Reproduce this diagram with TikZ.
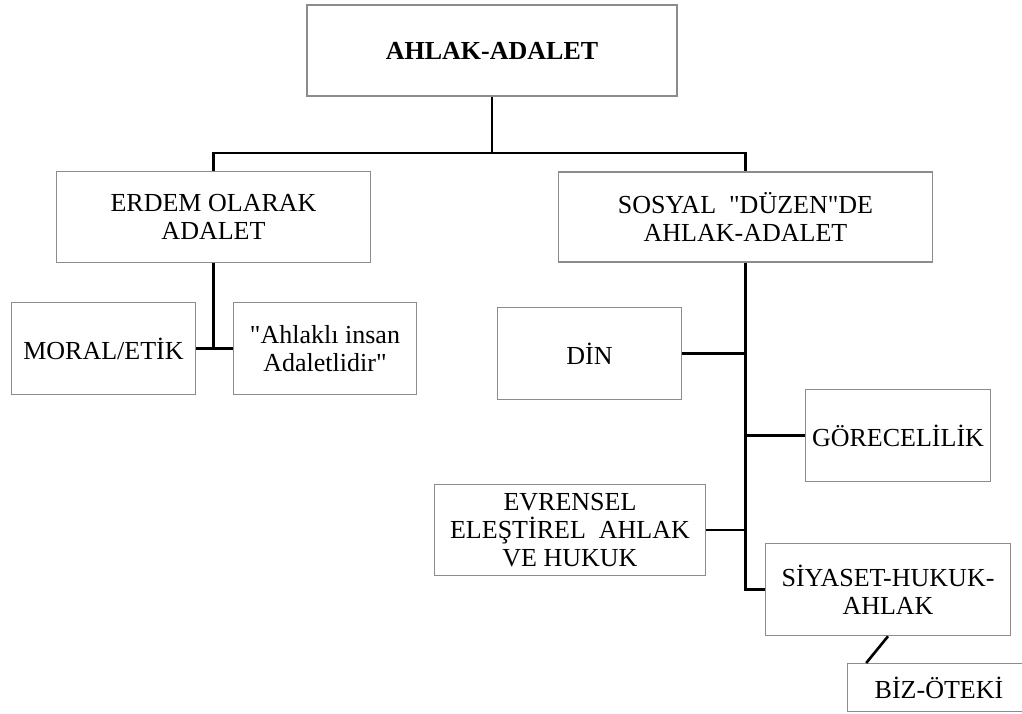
\documentclass[tikz,border=0pt]{standalone}
\usepackage{fontspec}
\setmainfont{Liberation Serif}
\usepackage{xcolor}
\usepackage{tikz}
\definecolor{C_frame}{RGB}{140,140,140}
\definecolor{C_link}{RGB}{0,0,0}

\begin{document}
\begin{tikzpicture}[every node/.style={font=\fontsize{14.8}{15.8}\selectfont}]
  \tikzset{
    box/.style={rectangle, draw=C_frame, line width=0.6pt, inner sep=0pt, align=center, minimum width=3.67cm, minimum height=1.85cm},
    link/.style={draw=C_link, line width=1.5pt}
  }
  \useasboundingbox (0,0) rectangle (20.44,14.26);

  \node[box, minimum width=7.40cm, minimum height=1.82cm, font=\bfseries\fontsize{14.8}{15.8}\selectfont] (top) at (9.84,13.25) {AHLAK-ADALET};
  \node[box, minimum width=6.28cm, minimum height=1.82cm] (erdem) at (4.27,9.92) {ERDEM OLARAK\\ADALET};
  \node[box, minimum width=7.48cm, minimum height=1.80cm] (sosyal) at (14.91,9.92) {SOSYAL~~\textquotedbl DÜZEN\textquotedbl DE\\AHLAK-ADALET};

  \node[box] (moral) at (2.07,7.29) {MORAL/ETİK};
  \node[box] (ahlakli) at (6.50,7.29) {\textquotedbl Ahlaklı insan\\Adaletlidir\textquotedbl};

  \node[box] (din) at (11.79,7.19) {DİN};
  \node[box, minimum width=3.70cm, minimum height=1.83cm] (gorecelilik) at (17.96,5.55) {GÖRECELİLİK};
  \node[box, minimum width=5.43cm, minimum height=1.83cm] (evrensel) at (11.40,3.66) {EVRENSEL\\ELEŞTİREL~~AHLAK\\VE HUKUK};
  \node[box, minimum width=4.91cm] (siyaset) at (17.76,2.47) {SİYASET-HUKUK-\\AHLAK};
  \node[box, minimum height=0.96cm] (biz) at (18.78,0.51) {BİZ-ÖTEKİ};

  \coordinate (bus) at (9.84,11.20);
  \draw[link] (top.south) -- (bus);
  \draw[link] (erdem.north) |- (bus) -| (sosyal.north);

  \draw[link] (erdem.south) -- (erdem.south |- moral.east);
  \draw[link] (moral.east) -- (ahlakli.west);

  \draw[link] (sosyal.south) |- (siyaset.west);
  \draw[link] (din.east) -- (din.east -| sosyal.south);
  \draw[link] (gorecelilik.west) -- (gorecelilik.west -| sosyal.south);
  \draw[link] (evrensel.east) -- (evrensel.east -| sosyal.south);
  \draw[link] (siyaset.south) -- ([xshift=0.39cm]biz.north west);
\end{tikzpicture}
\end{document}
